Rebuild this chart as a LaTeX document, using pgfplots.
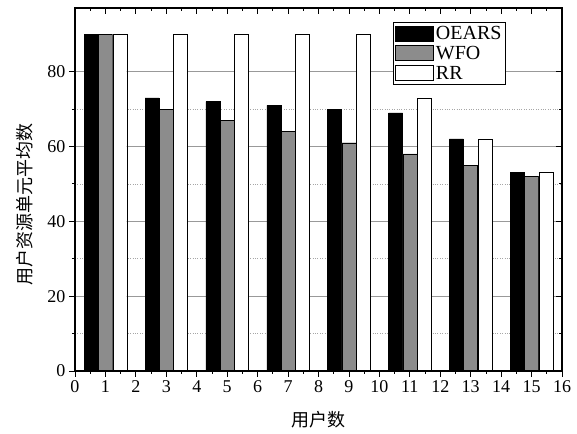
\documentclass[border=0pt]{standalone}
\usepackage{pgfplots}
\pgfplotsset{compat=1.18}
\usepackage{fontspec}
\setmainfont{Liberation Serif}
\newfontfamily\cjk{Noto Sans CJK SC}
\definecolor{barGray}{gray}{0.55}

\begin{document}
\begin{tikzpicture}
\pgfplotsset{
  common/.style={
    width=487pt, height=363pt, scale only axis,
    xmin=0, xmax=16, ymin=0, ymax=97,
    xtick={0,1,...,16}, ytick={0,20,...,80},
    minor x tick num=1, minor y tick num=1,
    major tick length=6pt, minor tick length=3pt,
    axis line style={line width=1.1pt},
    every tick/.style={black, line width=0.8pt},
  }
}
\begin{axis}[common, name=ax,
  xtick pos=bottom, ytick pos=left, tick align=outside,
  ymajorgrids, yminorgrids,
  major grid style={gray!80, line width=0.6pt},
  minor grid style={gray!70, dotted, line width=0.6pt},
  /pgf/number format/assume math mode=true,
  tick label style={font=\fontsize{18}{21}\selectfont},
  xlabel={\cjk 用户数},
  ylabel={\cjk 用户资源单元平均数},
  label style={font=\fontsize{18}{21}\selectfont},
  xlabel style={at={(axis description cs:0.5,-0.135)}, anchor=center},
  ylabel style={at={(axis description cs:-0.103,0.46)}, anchor=center},
  ybar, bar width=0.46,
  legend style={at={(0.653,0.961)}, anchor=north west, draw=black,
    font=\fontsize{20}{23}\selectfont, inner sep=2pt,
    row sep=1pt, line width=0.6pt},
  legend cell align=left,
  legend image code/.code={\draw[#1, line width=0.6pt] (0pt,-7pt) rectangle (38pt,8pt);},
]
\addplot[fill=black, draw=black, bar shift=-0.47] coordinates
  {(1,90) (3,73) (5,72) (7,71) (9,70) (11,69) (13,62) (15,53)};
\addlegendentry{OEARS}
\addplot[fill=barGray, draw=black, bar shift=0] coordinates
  {(1,90) (3,70) (5,67) (7,64) (9,61) (11,58) (13,55) (15,52)};
\addlegendentry{WFO}
\addplot[fill=white, draw=black, bar shift=0.47] coordinates
  {(1,90) (3,90) (5,90) (7,90) (9,90) (11,73) (13,62) (15,53)};
\addlegendentry{RR}
\end{axis}
% mirrored inward ticks on top and right
\begin{axis}[common,
  xtick pos=top, ytick pos=right, tick align=inside,
  xticklabels={}, yticklabels={}]
\end{axis}
\path ([xshift=-75pt,yshift=-63pt]ax.south west) rectangle ([xshift=15pt,yshift=8pt]ax.north east);
\end{tikzpicture}
\end{document}
